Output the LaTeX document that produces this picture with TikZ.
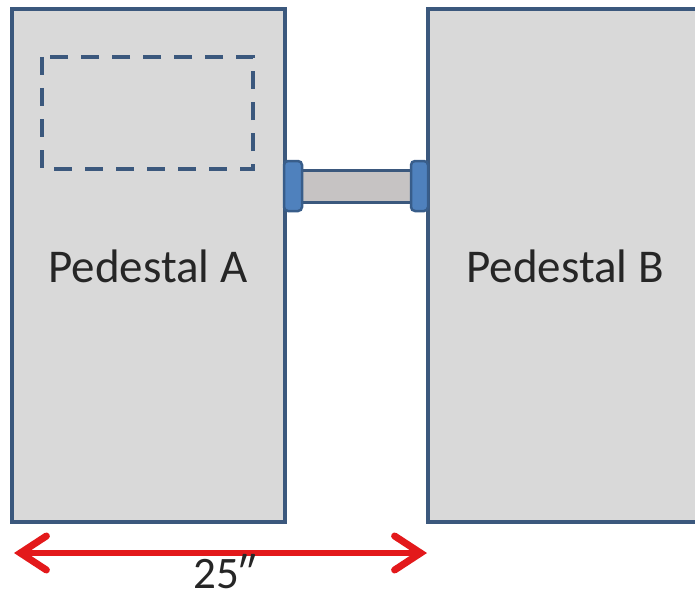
\documentclass[tikz,border=0pt]{standalone}
\usepackage{fontspec}
\setmainfont{Carlito}
\usetikzlibrary{arrows.meta}
\definecolor{pedfill}{HTML}{D9D9D9}
\definecolor{pededge}{HTML}{3B587D}
\definecolor{capfill}{HTML}{4F81BD}
\definecolor{capedge}{HTML}{385D8A}
\definecolor{barfill}{HTML}{C6C3C3}
\definecolor{arrred}{HTML}{E3191B}
\tikzset{
  pedbox/.style={draw=pededge, fill=pedfill, line width=3.5pt},
  dashbox/.style={draw=pededge, line width=3.5pt, dash pattern=on 18pt off 13pt},
  barbox/.style={draw=pededge, fill=barfill, line width=3pt},
  capbox/.style={draw=capedge, fill=capfill, line width=2.5pt, rounded corners=4pt},
  lbl/.style={font=\fontsize{47}{50}\selectfont, text=black!85, anchor=base, inner sep=0pt},
  dimarrow/.style={draw=arrred, line width=6pt, {Straight Barb[length=26pt,width=34pt,line width=7pt,line cap=round]}-{Straight Barb[length=26pt,width=34pt,line width=7pt,line cap=round]}}
}
\begin{document}
\begin{tikzpicture}[x=1pt,y=-1pt]
\useasboundingbox (0,0) rectangle (695,599);
\clip (0,0) rectangle (695,599);
\fill[white] (0,0) rectangle (695,599);
% pedestals
\draw[pedbox] (12,9) rectangle (285,522);
\draw[pedbox] (428,9) rectangle (705,522);
% dashed area
\draw[dashbox] (42,57) rectangle (253,169);
% connector bar and caps
\draw[barbox] (300,170) rectangle (413,202);
\draw[capbox] (284,161) rectangle (302,211);
\draw[capbox] (411,161) rectangle (428,211);
% labels
\node[lbl] (pa) at (148,282) {Pedestal A};
\node[lbl] (pb) at (565,282) {Pedestal B};
% dimension
\coordinate (arL) at (14,553);
\coordinate (arR) at (427,553);
\draw[dimarrow] (arL) -- (arR);
\node[lbl, font=\fontsize{45}{48}\selectfont] (dim) at (225,588) {25″};
\end{tikzpicture}
\end{document}
